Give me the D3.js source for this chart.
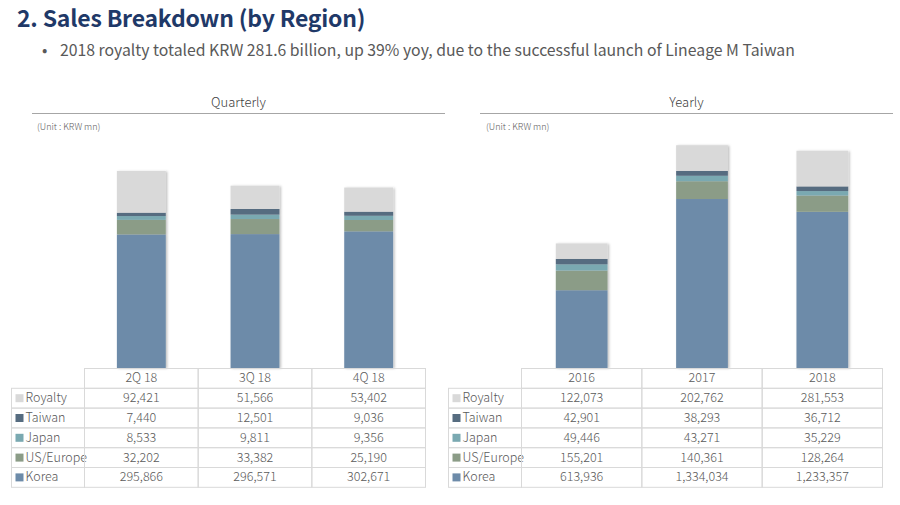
<!DOCTYPE html>
<html>
<head>
<meta charset="utf-8">
<script src="https://cdn.jsdelivr.net/npm/d3@7"></script>
<style>
  html, body { margin: 0; padding: 0; background: #fff; }
  svg { display: block; font-family: "Noto Sans CJK KR", "Noto Sans", sans-serif; }
</style>
</head>
<body>
<svg id="chart" width="900" height="505"></svg>
<script>
// ---- data ----
const series = ["Korea", "US/Europe", "Japan", "Taiwan", "Royalty"];
const tableOrder = ["Royalty", "Taiwan", "Japan", "US/Europe", "Korea"];
const colors = ["#6d8ba9", "#8b9c87", "#7aa9b1", "#566c80", "#d9d9d9"];

const quarters = ["2Q 18", "3Q 18", "4Q 18"];
const qKorea    = [295866, 296571, 302671];
const qUSEurope = [32202, 33382, 25190];
const qJapan    = [8533, 9811, 9356];
const qTaiwan   = [7440, 12501, 9036];
const qRoyalty  = [92421, 51566, 53402];

const years = ["2016", "2017", "2018"];
const yKorea    = [613936, 1334034, 1233357];
const yUSEurope = [155201, 140361, 128264];
const yJapan    = [49446, 43271, 35229];
const yTaiwan   = [42901, 38293, 36712];
const yRoyalty  = [122073, 202762, 281553];

const title = "2. Sales Breakdown (by Region)";
const bullet = "2018 royalty totaled KRW 281.6 billion, up 39% yoy, due to the successful launch of Lineage M Taiwan";

const svg = d3.select("#chart");
const colorScale = d3.scaleOrdinal().domain(series).range(colors);

// drop shadow
const defs = svg.append("defs");
const f = defs.append("filter").attr("id", "shadow").attr("x", "-10%").attr("y", "-10%").attr("width", "130%").attr("height", "130%");
f.append("feDropShadow").attr("dx", 1.5).attr("dy", 0.5).attr("stdDeviation", 1).attr("flood-color", "#000").attr("flood-opacity", 0.25);

// title
svg.append("text").attr("x", 17).attr("y", 26.8)
  .attr("font-size", 23).attr("font-weight", 700).attr("fill", "#1f3968")
  .attr("letter-spacing", -0.2)
  .text(title);
svg.append("text").attr("x", 42).attr("y", 56)
  .attr("font-size", 15.8).attr("fill", "#595959").text("•");
svg.append("text").attr("x", 60).attr("y", 56)
  .attr("font-size", 15.8).attr("fill", "#595959").text(bullet);

function panel(cfg) {
  const { cats, data, yMax, headerX0, headerX1, headLabel, tLeft, tFirst, tRight, unitX } = cfg;
  const g = svg.append("g");
  // header
  g.append("text").attr("x", (headerX0 + headerX1) / 2).attr("y", 107)
    .attr("text-anchor", "middle").attr("font-size", 13).attr("font-weight", 300).attr("fill", "#404040").text(headLabel);
  g.append("line").attr("x1", headerX0).attr("x2", headerX1).attr("y1", 113.5).attr("y2", 113.5)
    .attr("stroke", "#a6a6a6").attr("stroke-width", 1);
  g.append("text").attr("x", unitX).attr("y", 130)
    .attr("font-size", 9).attr("font-weight", 300).attr("fill", "#595959").text("(Unit : KRW mn)");

  const x = d3.scaleBand().domain(cats).range([tFirst, tRight]).paddingInner(0).paddingOuter(0);
  const y = d3.scaleLinear().domain([0, yMax]).range([368, 140]);

  const rows = cats.map((c, i) => {
    const o = { cat: c };
    series.forEach(s => o[s] = data[s][i]);
    return o;
  });
  const stacked = d3.stack().keys(series)(rows);

  const barW = x.bandwidth() * 0.43;
  const bars = g.append("g").attr("filter", "url(#shadow)");
  cats.forEach((c, i) => {
    const bg = bars.append("g");
    stacked.forEach(layer => {
      const d = layer[i];
      bg.append("rect")
        .attr("x", x(c) + (x.bandwidth() - barW) / 2)
        .attr("width", barW)
        .attr("y", y(d[1]))
        .attr("height", Math.max(0, y(d[0]) - y(d[1])))
        .attr("fill", colorScale(layer.key));
    });
  });

  // table
  const rowH = 19.8;
  const top = 368.5;
  const tg = g.append("g");
  const lc = "#d9d9d9";
  const tAttrs = sel => sel.attr("font-size", 12.5).attr("font-weight", 300).attr("fill", "#595959");
  cats.forEach((c, i) => {
    tg.append("rect").attr("x", x(c)).attr("y", top).attr("width", x.bandwidth()).attr("height", rowH)
      .attr("fill", "none").attr("stroke", lc);
    tg.append("text").attr("x", x(c) + x.bandwidth() / 2).attr("y", top + rowH / 2 + 4)
      .attr("text-anchor", "middle").call(tAttrs).text(c);
  });
  tableOrder.forEach((s, r) => {
    const ry = top + rowH * (r + 1);
    tg.append("rect").attr("x", tLeft).attr("y", ry).attr("width", tFirst - tLeft).attr("height", rowH)
      .attr("fill", "none").attr("stroke", lc);
    tg.append("rect").attr("x", tLeft + 4).attr("y", ry + rowH / 2 - 4).attr("width", 8).attr("height", 8)
      .attr("fill", colorScale(s));
    tg.append("text").attr("x", tLeft + 14).attr("y", ry + rowH / 2 + 4)
      .call(tAttrs).text(s);
    cats.forEach((c, i) => {
      tg.append("rect").attr("x", x(c)).attr("y", ry).attr("width", x.bandwidth()).attr("height", rowH)
        .attr("fill", "none").attr("stroke", lc);
      tg.append("text").attr("x", x(c) + x.bandwidth() / 2).attr("y", ry + rowH / 2 + 4)
        .attr("text-anchor", "middle").call(tAttrs)
        .text(d3.format(",")(data[s][i]));
    });
  });
}

panel({
  cats: quarters,
  data: { "Korea": qKorea, "US/Europe": qUSEurope, "Japan": qJapan, "Taiwan": qTaiwan, "Royalty": qRoyalty },
  yMax: 505000,
  headerX0: 32, headerX1: 445, headLabel: "Quarterly",
  tLeft: 11.5, tFirst: 84.5, tRight: 425.5, unitX: 37
});
panel({
  cats: years,
  data: { "Korea": yKorea, "US/Europe": yUSEurope, "Japan": yJapan, "Taiwan": yTaiwan, "Royalty": yRoyalty },
  yMax: 1800000,
  headerX0: 480, headerX1: 893, headLabel: "Yearly",
  tLeft: 448.5, tFirst: 521.5, tRight: 882.5, unitX: 486
});
</script>
</body>
</html>
